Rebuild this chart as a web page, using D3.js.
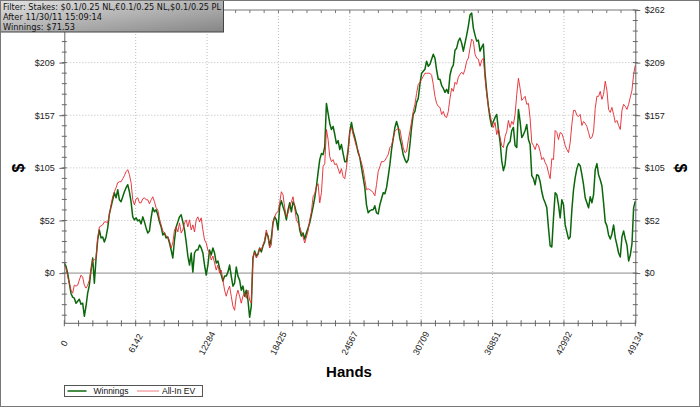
<!DOCTYPE html>
<html>
<head>
<meta charset="utf-8">
<script src="https://cdn.jsdelivr.net/npm/d3@7"></script>
<style>
  html, body { margin: 0; padding: 0; background: #fff; }
  svg { display: block; }
</style>
</head>
<body>
<div id="chart"></div>
<script>
// cumulative results in $, one sample every ~144 hands
const winnings = [
  10, 7, 0, -10, -20, -24, -25, -30, -28, -26, -31, -30, -43, -33, -20, -12, 3, 15, -10, 14,
  33, 43, 35, 36, 31, 36, 45, 59, 66, 73, 80, 75, 83, 73, 71, 76, 81, 85, 88, 81,
  71, 56, 53, 55, 52, 53, 49, 56, 51, 45, 40, 42, 55, 65, 61, 63, 58, 51, 46, 38,
  40, 35, 36, 30, 23, 15, 33, 46, 51, 56, 58, 51, 43, 31, 17, 8, 20, 1, 20, 23,
  23, 28, 25, 20, 8, -2, 8, 23, 18, 25, 20, 10, 12, 5, -2, -8, -3, -3, 1, 8,
  -3, -13, -10, 6, -3, -7, -17, -13, -23, -17, -27, -44, -33, 15, 22, 17, 19, 25, 21, 27,
  31, 40, 37, 27, 35, 50, 56, 53, 43, 66, 72, 66, 61, 53, 63, 70, 61, 71, 67, 60,
  57, 43, 37, 40, 34, 40, 45, 50, 58, 66, 75, 86, 100, 113, 119, 118, 126, 169, 159, 149,
  143, 146, 138, 129, 132, 123, 128, 119, 111, 111, 123, 141, 150, 141, 135, 128, 120, 115, 105, 95,
  85, 68, 60, 62, 63, 63, 67, 60, 59, 68, 74, 80, 79, 85, 96, 108, 123, 134, 145, 151,
  145, 134, 127, 118, 113, 110, 113, 128, 145, 158, 161, 170, 174, 188, 199, 201, 203, 211, 206, 208,
  213, 218, 214, 202, 193, 193, 187, 184, 180, 183, 179, 197, 204, 207, 222, 224, 231, 234, 229, 221,
  229, 237, 246, 257, 259, 244, 237, 231, 232, 221, 225, 228, 199, 181, 166, 154, 146, 151, 155, 158,
  143, 131, 112, 102, 108, 125, 129, 131, 142, 145, 127, 125, 163, 151, 135, 138, 142, 148, 133, 128,
  97, 94, 88, 98, 97, 91, 81, 74, 70, 65, 45, 27, 26, 55, 80, 78, 68, 55, 73, 68,
  48, 41, 34, 36, 63, 83, 95, 104, 109, 107, 98, 88, 75, 70, 65, 76, 70, 78, 103, 109,
  98, 93, 87, 70, 51, 47, 38, 34, 39, 48, 35, 28, 20, 16, 36, 42, 34, 28, 12, 18,
  29, 65, 71.53
];
const allInEV = [
  8, 5, -3, -10, -17, -20, -12, -13, -12, -7, -2, -4, -12, -15, -12, -7, 3, 13, 13, 15,
  35, 46, 47, 48, 51, 51, 50, 58, 68, 76, 81, 85, 90, 91, 91, 94, 97, 101, 103, 98,
  90, 73, 68, 74, 75, 70, 70, 74, 75, 73, 73, 69, 73, 76, 71, 65, 63, 54, 48, 42,
  40, 37, 36, 32, 25, 30, 43, 46, 41, 50, 40, 43, 50, 53, 46, 53, 43, 48, 41, 53,
  56, 51, 55, 43, 33, 30, 23, 20, 13, 17, 10, 3, 8, 0, 3, -7, -17, -23, -17, -13,
  -23, -33, -37, -23, -17, -23, -30, -23, -20, -25, -17, -27, -30, 16, 21, 15, 18, 25, 23, 28,
  33, 43, 36, 25, 28, 51, 56, 60, 61, 70, 81, 78, 65, 56, 60, 66, 71, 76, 65, 53,
  50, 46, 41, 36, 30, 36, 42, 53, 61, 76, 79, 86, 89, 70, 80, 106, 109, 143, 133, 116,
  111, 113, 108, 109, 104, 99, 104, 96, 94, 105, 121, 141, 145, 138, 132, 126, 122, 115, 110, 103,
  93, 83, 84, 83, 82, 80, 77, 88, 101, 106, 111, 111, 112, 115, 118, 125, 127, 134, 141, 143,
  144, 143, 134, 125, 120, 121, 132, 141, 151, 161, 168, 179, 188, 190, 193, 196, 199, 199, 199, 199,
  197, 188, 176, 169, 166, 165, 158, 161, 156, 155, 161, 174, 184, 181, 190, 188, 195, 198, 200, 198,
  203, 211, 214, 224, 233, 231, 218, 214, 213, 206, 212, 214, 194, 178, 166, 158, 150, 145, 150, 138,
  144, 135, 127, 125, 136, 141, 152, 145, 151, 148, 158, 178, 194, 184, 172, 174, 176, 168, 169, 154,
  130, 127, 123, 129, 127, 121, 113, 115, 110, 107, 100, 94, 114, 113, 142, 140, 133, 140, 139, 134,
  127, 123, 120, 130, 148, 162, 162, 157, 156, 158, 147, 151, 149, 146, 140, 134, 135, 141, 164, 176,
  176, 181, 173, 178, 191, 182, 163, 160, 165, 158, 150, 152, 147, 143, 162, 168, 166, 163, 168, 175,
  182, 198, 207
];
const totalHands = 49134;
const xTickValues = [0, 6142, 12284, 18425, 24567, 30709, 36851, 42992, 49134];
const yTickValues = [0, 52.4, 104.8, 157.2, 209.6, 262];
const yTickLabels = ["$0", "$52", "$105", "$157", "$209", "$262"];
const infoLines = [
  "Filter: Stakes: $0.1/0.25 NL,€0.1/0.25 NL,$0.1/0.25 PL",
  "After 11/30/11 15:09:14",
  "Winnings: $71.53"
];
const seriesNames = ["Winnings", "All-In EV"];
const seriesColors = ["#0b670b", "#e4262c"];

const width = 700, height = 407;
const plotLeft = 64.3, plotRight = 635.3, plotTop = 10, plotBottom = 323.3;
const font = "'Liberation Sans', Arial, sans-serif";

const hands = winnings.map((_, i) => i * totalHands / (winnings.length - 1));

const x = d3.scaleLinear().domain([0, totalHands]).range([plotLeft, plotRight]);
const y = d3.scaleLinear().domain([-50, 262]).range([plotBottom, plotTop]);

const svg = d3.select("#chart").append("svg")
    .attr("width", width)
    .attr("height", height);

svg.append("rect")
    .attr("width", width).attr("height", height)
    .attr("fill", "#fff");

// grid
const xMinor = d3.range(0, 41).map(i => i * totalHands / 40);
const yMinor = d3.range(-4, 26).map(i => i * 10.48);

svg.append("g")
    .selectAll("line")
    .data(xTickValues.slice(1, -1))
    .join("line")
    .attr("x1", d => x(d)).attr("x2", d => x(d))
    .attr("y1", plotTop).attr("y2", plotBottom)
    .attr("stroke", "#bdbdbd")
    .attr("stroke-dasharray", "1,2");

svg.append("g")
    .selectAll("line")
    .data(yTickValues.slice(1, -1))
    .join("line")
    .attr("x1", plotLeft).attr("x2", plotRight)
    .attr("y1", d => y(d)).attr("y2", d => y(d))
    .attr("stroke", "#bdbdbd")
    .attr("stroke-dasharray", "1,2");

svg.append("line")
    .attr("x1", plotLeft).attr("x2", plotRight)
    .attr("y1", y(0)).attr("y2", y(0))
    .attr("stroke", "#8a8a8a");

// top frame line with small inward ticks
svg.append("line")
    .attr("x1", plotLeft).attr("x2", plotRight)
    .attr("y1", plotTop).attr("y2", plotTop)
    .attr("stroke", "#777");
svg.append("g")
    .selectAll("line")
    .data(xMinor)
    .join("line")
    .attr("x1", d => x(d)).attr("x2", d => x(d))
    .attr("y1", plotTop).attr("y2", plotTop + 3)
    .attr("stroke", "#777");

// lines
const line = d3.line()
    .x((d, i) => x(hands[i]))
    .y(d => y(d));

[winnings, allInEV].forEach((s, k) => {
  svg.append("path")
      .datum(s)
      .attr("fill", "none")
      .attr("stroke", seriesColors[k])
      .attr("stroke-width", k === 0 ? 1.5 : 0.9)
      .attr("stroke-linejoin", "round")
      .attr("d", line);
});

// y axes (the top-left label sits under the info box, so the left side stops at $209)
function yAxis(g, side) {
  const isLeft = side === "left";
  const ax = isLeft ? d3.axisLeft(y) : d3.axisRight(y);
  const vals = isLeft ? yTickValues.slice(0, -1) : yTickValues;
  g.call(ax.tickValues(vals).tickFormat((d, i) => yTickLabels[i])
      .tickSizeInner(5).tickSizeOuter(0).tickPadding(4.5));
  g.select(".domain").attr("stroke", "#666");
  g.selectAll(".tick line").attr("stroke", "#666");
  g.selectAll(".tick text")
      .attr("font-family", font)
      .attr("font-size", 9)
      .attr("fill", "#222");
  g.append("g").selectAll("line")
      .data(yMinor)
      .join("line")
      .attr("x1", -2.5).attr("x2", 2.5)
      .attr("y1", d => y(d)).attr("y2", d => y(d))
      .attr("stroke", "#666");
}
svg.append("g").attr("transform", `translate(${plotLeft},0)`).call(yAxis, "left");
svg.append("g").attr("transform", `translate(${plotRight},0)`).call(yAxis, "right");

// x axis
const xAxisG = svg.append("g").attr("transform", `translate(0,${plotBottom})`);
xAxisG.append("line")
    .attr("x1", plotLeft).attr("x2", plotRight)
    .attr("stroke", "#666");
xAxisG.selectAll("line.minor")
    .data(xMinor)
    .join("line")
    .attr("class", "minor")
    .attr("x1", d => x(d)).attr("x2", d => x(d))
    .attr("y1", -3).attr("y2", 3)
    .attr("stroke", "#666");
xAxisG.selectAll("text")
    .data(xTickValues)
    .join("text")
    .attr("transform", d => `translate(${x(d)},${20}) rotate(-62)`)
    .attr("text-anchor", "middle")
    .attr("dominant-baseline", "central")
    .attr("font-family", font)
    .attr("font-size", 9)
    .attr("fill", "#222")
    .text(d => d);

// axis titles
svg.append("text")
    .attr("x", 349).attr("y", 377)
    .attr("text-anchor", "middle")
    .attr("font-family", font)
    .attr("font-weight", "bold")
    .attr("font-size", 15)
    .text("Hands");

svg.append("text")
    .attr("transform", "translate(18,168) rotate(-90)")
    .attr("text-anchor", "middle")
    .attr("dominant-baseline", "central")
    .attr("font-family", font)
    .attr("font-weight", "bold")
    .attr("font-size", 16)
    .text("$");

svg.append("text")
    .attr("transform", "translate(680,168) rotate(90)")
    .attr("text-anchor", "middle")
    .attr("dominant-baseline", "central")
    .attr("font-family", font)
    .attr("font-weight", "bold")
    .attr("font-size", 16)
    .text("$");

// legend
const lg = svg.append("g");
lg.append("rect")
    .attr("x", 64.5).attr("y", 385.5)
    .attr("width", 138).attr("height", 11)
    .attr("fill", "#fff")
    .attr("stroke", "#555");
const legendX = [[67.5, 86.5, 93.5], [137, 159, 162]];
seriesNames.forEach((name, k) => {
  lg.append("line")
      .attr("x1", legendX[k][0]).attr("x2", legendX[k][1])
      .attr("y1", 391).attr("y2", 391)
      .attr("stroke", seriesColors[k])
      .attr("stroke-width", k === 0 ? 1.5 : 1)
      .attr("opacity", k === 0 ? 1 : 0.6);
  lg.append("text")
      .attr("x", legendX[k][2]).attr("y", 394)
      .attr("font-family", font)
      .attr("font-size", 8.5)
      .attr("fill", "#111")
      .text(name);
});

// info box
const defs = svg.append("defs");
const grad = defs.append("linearGradient")
    .attr("id", "infoGrad")
    .attr("x1", 0).attr("y1", 0).attr("x2", 1).attr("y2", 1);
grad.append("stop").attr("offset", "0%").attr("stop-color", "#e2e2e2");
grad.append("stop").attr("offset", "100%").attr("stop-color", "#858585");

svg.append("rect")
    .attr("x", 0.5).attr("y", 0.5)
    .attr("width", 223).attr("height", 31.5)
    .attr("fill", "url(#infoGrad)")
    .attr("stroke", "#444");

const infoWidths = [218, 99, 72];
svg.append("g")
    .selectAll("text")
    .data(infoLines)
    .join("text")
    .attr("x", 3)
    .attr("y", (d, i) => 9.5 + i * 10)
    .attr("font-family", "'DejaVu Sans', Verdana, sans-serif")
    .attr("font-size", 8)
    .attr("fill", "#111")
    .attr("textLength", (d, i) => infoWidths[i])
    .attr("lengthAdjust", "spacingAndGlyphs")
    .text(d => d);

// outer frame
svg.append("rect")
    .attr("x", 0.5).attr("y", 0.5)
    .attr("width", width - 1).attr("height", height - 1)
    .attr("fill", "none")
    .attr("stroke", "#777");
</script>
</body>
</html>
